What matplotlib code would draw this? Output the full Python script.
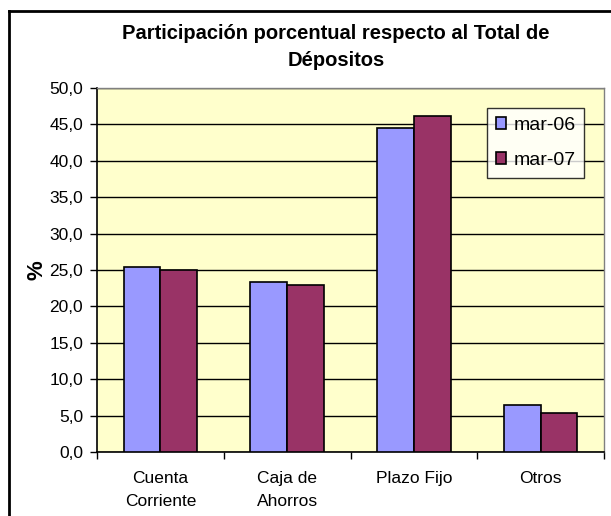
import matplotlib.pyplot as plt
import numpy as np
from matplotlib.lines import Line2D

plt.rcParams['font.family'] = ['Liberation Sans', 'DejaVu Sans']

categories = ["Cuenta\nCorriente", "Caja de\nAhorros", "Plazo Fijo", "Otros"]
series_names = ["mar-06", "mar-07"]
mar06 = [25.4, 23.4, 44.5, 6.4]
mar07 = [25.0, 23.0, 46.1, 5.4]
yticks = [0, 5, 10, 15, 20, 25, 30, 35, 40, 45, 50]

fig = plt.figure(figsize=(6.11, 5.16), dpi=100)
ax = fig.add_axes([97 / 611, 1 - 452 / 516, 507 / 611, 364 / 516])
ax.set_facecolor('#FFFFCC')

x = np.arange(len(categories))
w = 0.29
ax.bar(x - w / 2, mar06, w, color='#9999FF', edgecolor='black', linewidth=1.2,
       label=series_names[0], zorder=3)
ax.bar(x + w / 2, mar07, w, color='#993366', edgecolor='black', linewidth=1.2,
       label=series_names[1], zorder=3)

ax.set_xlim(-0.5, len(categories) - 0.5)
ax.set_ylim(0, 50)
ax.set_yticks(yticks)
ax.set_yticklabels([f"{v:.1f}".replace('.', ',') for v in yticks], fontsize=12.5)
ax.yaxis.grid(True, color='black', linewidth=1, zorder=1)
ax.set_axisbelow(True)

# category boundaries as major ticks, labels on minor ticks
ax.set_xticks(np.arange(-0.5, len(categories), 1.0))
ax.set_xticklabels([])
ax.set_xticks(x, minor=True)
ax.set_xticklabels(categories, minor=True, fontsize=12.5, linespacing=1.6)
ax.tick_params(axis='x', which='minor', length=0, pad=14)
ax.tick_params(axis='x', which='major', length=5, width=1, direction='out')
ax.tick_params(axis='y', length=5, width=1, direction='out', pad=5)

for s in ['top', 'right']:
    ax.spines[s].set_color('#808080')
    ax.spines[s].set_linewidth(1)
for s in ['left', 'bottom']:
    ax.spines[s].set_color('black')
    ax.spines[s].set_linewidth(1.2)

ax.set_ylabel('%', fontsize=16, fontweight='bold', labelpad=1)

leg = ax.legend(loc='upper left', bbox_to_anchor=(390 / 507, 1 - 20 / 364),
                fontsize=14, frameon=True, fancybox=False, handlelength=0.55,
                handleheight=0.55, handletextpad=0.35, borderpad=0.45,
                labelspacing=0.95, borderaxespad=0)
leg.get_frame().set_edgecolor('black')
leg.get_frame().set_linewidth(1)

fig.text(336 / 611, 1 - 47 / 516,
         "Participación porcentual respecto al Total de\nDépositos",
         ha='center', va='center', fontsize=14.5, fontweight='bold', linespacing=1.55)

# outer chart border (left and top, runs off the image)
fig.add_artist(Line2D([9 / 611, 9 / 611], [0, 1 - 11 / 516], color='black', linewidth=2))
fig.add_artist(Line2D([9 / 611, 1], [1 - 11 / 516, 1 - 11 / 516], color='black', linewidth=2))

fig.savefig('out.png', dpi=100)
